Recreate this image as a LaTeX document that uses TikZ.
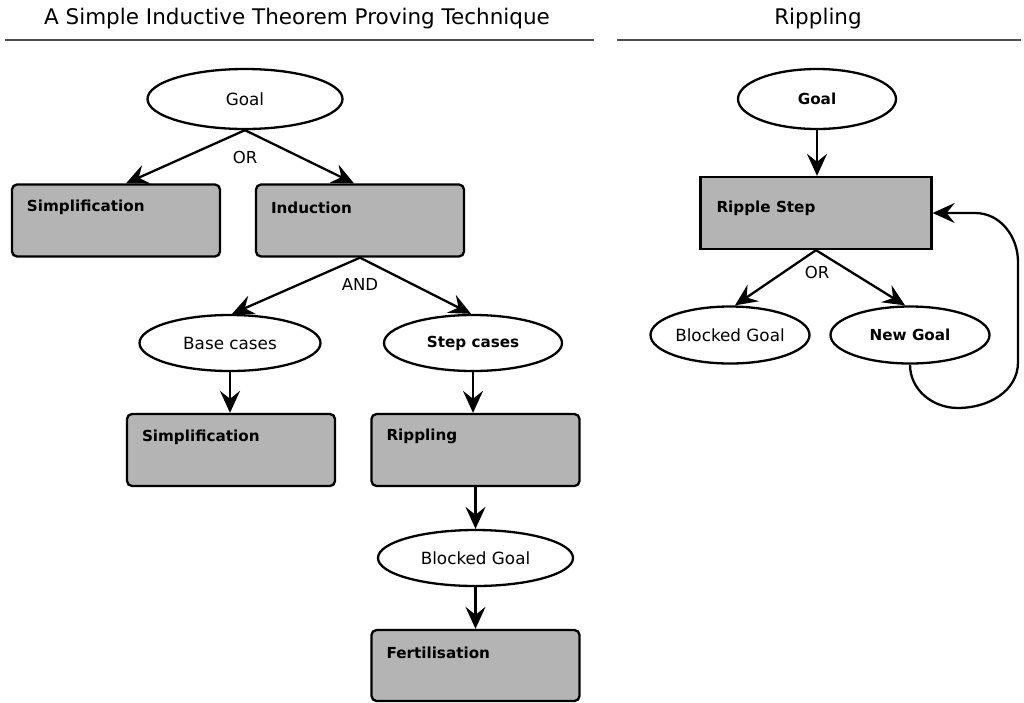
\documentclass[tikz,border=0pt]{standalone}
\usepackage{fontspec}
\setmainfont{DejaVu Sans}
\usetikzlibrary{arrows.meta,shapes.geometric}
\definecolor{boxgray}{HTML}{B4B4B4}
\definecolor{rulegray}{HTML}{505050}
\begin{document}
\begin{tikzpicture}[x=1pt,y=-1pt,line width=2.3pt,
  goal/.style={ellipse,draw,fill=white,inner sep=0pt,font=\fontsize{16.8}{20}\selectfont},
  boldgoal/.style={goal,font=\fontsize{15.2}{18}\selectfont\bfseries},
  box/.style={draw,fill=boxgray,rounded corners=5pt,inner sep=0pt,minimum width=208,minimum height=72},
  boxtext/.style={anchor=west,inner sep=0pt,font=\fontsize{15.2}{18}\selectfont\bfseries},
  edgelabel/.style={inner sep=0pt,font=\fontsize{16.5}{20}\selectfont},
  title/.style={inner sep=0pt,font=\fontsize{21.5}{26}\selectfont},
  titlerule/.style={line width=1.3pt,draw=rulegray},
  flow/.style={-{Stealth[length=22pt,width=20pt,inset=8pt]}}]
\useasboundingbox (0,0) rectangle (1024,702);

% headings
\node[title] (t1) at (297,19) {A Simple Inductive Theorem Proving Technique};
\node[title] (t2) at (818,19) {Rippling};
\coordinate (r1a) at (5,40);   \coordinate (r1b) at (594,40);
\coordinate (r2a) at (617,40); \coordinate (r2b) at (1021,40);
\draw[titlerule] (r1a) -- (r1b);
\draw[titlerule] (r2a) -- (r2b);

% inductive proof technique
\node[goal,minimum width=195,minimum height=60] (g1) at (245,99) {Goal};
\node[box] (simp1) at (116,220.5) {};
\node[boxtext] at ([shift={(15,24)}]simp1.north west) {Simplification};
\node[box] (ind) at (360,220.5) {};
\node[boxtext] at ([shift={(15,24)}]ind.north west) {Induction};
\node[edgelabel] (or1) at (245,157) {OR};
\draw[flow] (g1.south) -- ([xshift=10pt]simp1.north);
\draw[flow] (g1.south) -- ([xshift=-6pt]ind.north);

\node[goal,minimum width=181,minimum height=56] (base) at (230,343) {Base cases};
\node[boldgoal,minimum width=178,minimum height=56] (step) at (473,343) {Step cases};
\node[edgelabel] (and) at (360,284) {AND};
\draw[flow] (ind.south) -- ([xshift=2pt]base.north);
\draw[flow] (ind.south) -- ([xshift=-2pt]step.north);

\node[box] (simp2) at (231,450) {};
\node[boxtext] at ([shift={(15,24)}]simp2.north west) {Simplification};
\node[box] (rip) at (475.5,450) {};
\node[boxtext] at ([shift={(15,24)}]rip.north west) {Rippling};
\draw[flow] (base.south) -- (base.south |- simp2.north);
\draw[flow] (step.south) -- (step.south |- rip.north);

\node[goal,minimum width=195,minimum height=56] (blk1) at (475.5,558) {Blocked Goal};
\draw[flow] (rip.south) -- (blk1.north);
\node[box,minimum height=71] (fert) at (475.5,665.5) {};
\node[boxtext] at ([shift={(15,24)}]fert.north west) {Fertilisation};
\draw[flow] (blk1.south) -- (fert.north);

% rippling loop
\node[boldgoal,minimum width=158,minimum height=60] (g2) at (817,99) {Goal};
\node[box,sharp corners,minimum width=231,minimum height=72] (rs) at (816,213) {};
\node[boxtext] at ([shift={(16,-5)}]rs.west) {Ripple Step};
\draw[flow] (g2.south) -- (g2.south |- rs.north);

\node[edgelabel] (or2) at (817,272) {OR};
\node[goal,minimum width=159,minimum height=57] (blk2) at (730,335) {Blocked Goal};
\node[boldgoal,minimum width=159,minimum height=57] (ng) at (910,335) {New Goal};
\draw[flow] (rs.south) -- ([xshift=5pt]blk2.north);
\draw[flow] (rs.south) -- ([xshift=-5pt]ng.north);

\coordinate (lb) at (958,408);
\coordinate (lr1) at (1018,362);
\coordinate (lr2) at (1018,262);
\coordinate (lt) at (975,213);
\draw[flow] (ng.south) to[out=-90,in=180] (lb) to[out=0,in=-90] (lr1)
  -- (lr2) to[out=90,in=0] (lt) -- (rs.east);
\end{tikzpicture}
\end{document}
